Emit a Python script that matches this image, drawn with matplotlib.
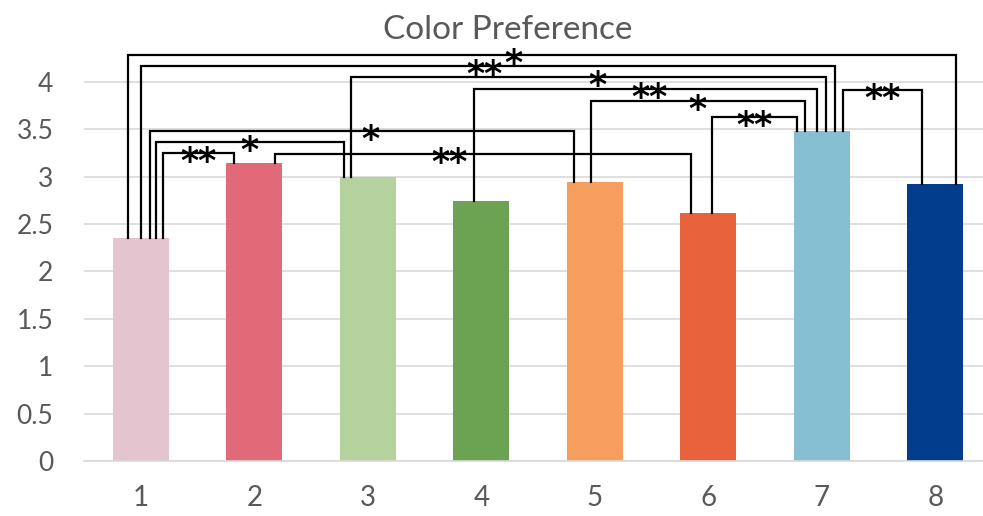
import matplotlib.pyplot as plt

# bar values
groups = ['1', '2', '3', '4', '5', '6', '7', '8']
scores = [2.35, 3.14, 3.0, 2.74, 2.94, 2.62, 3.48, 2.92]
colors = ['#E4C4CE', '#E06A78', '#B5D19E', '#6BA352',
          '#F59E5E', '#E8633C', '#86BFD1', '#013D8A']

# significance brackets: (left bar, right bar, left leg offset, right leg offset, height, label)
pairs = [
    (0, 7, -0.11, 0.185, 4.285, '*'),
    (0, 6, 0.0, 0.12, 4.17, '**'),
    (2, 6, -0.15, 0.035, 4.055, '*'),
    (3, 6, -0.06, -0.045, 3.93, '**'),
    (6, 7, 0.19, -0.115, 3.915, '**'),
    (4, 6, -0.035, -0.15, 3.80, '*'),
    (5, 6, 0.035, -0.22, 3.63, '**'),
    (0, 4, 0.08, -0.185, 3.48, '*'),
    (0, 2, 0.13, -0.21, 3.365, '*'),
    (0, 1, 0.195, -0.18, 3.25, '**'),
    (1, 5, 0.18, -0.15, 3.24, '**'),
]
# where each label sits along its bracket (fraction from left leg)
label_pos = [0.465, 0.495, 0.52, 0.51, 0.5, 0.5, 0.5, 0.52, 0.5, 0.5, 0.42]

plt.rcParams['font.family'] = ['Lato', 'DejaVu Sans']
fig = plt.figure(figsize=(9.83, 5.16), dpi=100)
ax = fig.add_axes([0.0855, 0.1066, 0.9237, 0.808])

x = range(len(groups))
ax.bar(x, scores, width=0.49, color=colors, zorder=2)

for (a, b, oa, ob, h, lab), f in zip(pairs, label_pos):
    xa, xb = a + oa, b + ob
    ax.plot([xa, xa, xb, xb], [scores[a], h, h, scores[b]],
            color='black', lw=1.6, zorder=3, solid_joinstyle='miter')
    ax.text(xa + (xb - xa) * f, h - 0.2, lab, ha='center', va='baseline',
            fontsize=25, fontweight='bold', family='DejaVu Sans', zorder=4)

ax.set_xlim(-0.5, 7.5)
ax.set_ylim(0, 4.4)
ax.set_yticks([0, 0.5, 1, 1.5, 2, 2.5, 3, 3.5, 4])
ax.set_yticklabels(['0', '0.5', '1', '1.5', '2', '2.5', '3', '3.5', '4'])
ax.set_xticks(list(x))
ax.set_xticklabels(groups)
ax.grid(axis='y', color='#D9D9D9', lw=1.2, zorder=0)
for s in ['top', 'right', 'left']:
    ax.spines[s].set_visible(False)
ax.spines['bottom'].set_color('#D9D9D9')
ax.spines['bottom'].set_linewidth(1.2)
ax.tick_params(axis='both', length=0, colors='#595959')
ax.tick_params(axis='y', labelsize=19, pad=22)
ax.tick_params(axis='x', labelsize=20, pad=17)

fig.text(0.516, 0.925, 'Color Preference', ha='center', va='baseline',
         fontsize=24, color='#595959')

fig.savefig('out.png', dpi=100)
